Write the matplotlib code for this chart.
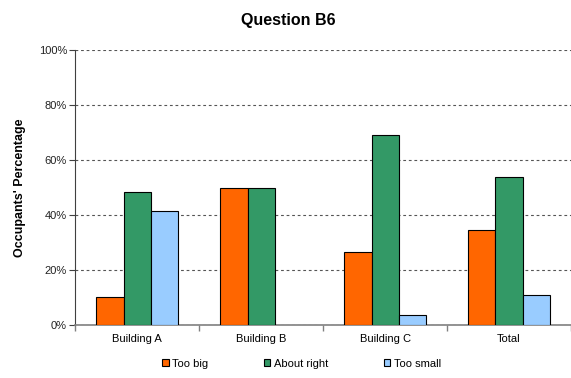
import numpy as np
import matplotlib
matplotlib.use('Agg')
import matplotlib.pyplot as plt
from matplotlib.ticker import FuncFormatter

plt.rcParams['font.family'] = ['Liberation Sans', 'DejaVu Sans']

categories = ['Building A', 'Building B', 'Building C', 'Total']
series_names = ['Too big', 'About right', 'Too small']
too_big = [10.5, 50.0, 26.7, 34.8]
about_right = [48.3, 50.0, 69.1, 53.9]
too_small = [41.4, 0.0, 3.7, 11.1]
colors = ['#FF6600', '#339966', '#99CCFF']

fig = plt.figure(figsize=(5.71, 3.78), dpi=100)
ax = fig.add_axes([0.132, 0.139, 0.868, 0.729])

x = np.arange(len(categories))
w = 0.22
for i, (vals, name, c) in enumerate(zip([too_big, about_right, too_small], series_names, colors)):
    vals = np.array(vals)
    mask = vals > 0
    ax.bar(x[mask] + (i - 1) * w, vals[mask], width=w, color=c, edgecolor='black',
           linewidth=0.8, label=name, zorder=3)

ax.set_xlim(-0.5, len(categories) - 0.5)
ax.set_ylim(0, 100)
ax.set_yticks(range(0, 101, 20))
ax.yaxis.set_major_formatter(FuncFormatter(lambda v, p: f'{int(v)}%'))
ax.grid(axis='y', linestyle=(0, (2.5, 2.5)), color='#555555', linewidth=0.8, zorder=0)

# category ticks at boundaries, labels centered
ax.set_xticks(np.arange(len(categories) + 1) - 0.5)
ax.set_xticklabels([])
ax.set_xticks(x, minor=True)
ax.set_xticklabels(categories, minor=True, fontsize=8)
ax.tick_params(axis='x', which='minor', length=0, pad=6)
ax.tick_params(axis='x', which='major', length=4, color='#808080', width=1)
ax.tick_params(axis='y', labelsize=8, length=4, color='#404040', pad=2, labelcolor='#222222')

for s in ['top', 'right']:
    ax.spines[s].set_visible(False)
ax.spines['left'].set_color('#404040')
ax.spines['bottom'].set_color('#808080')
ax.spines['bottom'].set_linewidth(1.2)

fig.text(0.505, 0.947, 'Question B6', fontsize=11.5, fontweight='bold', ha='center', va='center')
ax.set_ylabel("Occupants' Percentage", fontsize=9, fontweight='bold', labelpad=9)

ax.legend(loc='upper center', bbox_to_anchor=(0.456, -0.085), ncol=3, frameon=False,
          fontsize=8, handlelength=0.6, handleheight=0.6, handletextpad=0.3,
          columnspacing=5.0)

fig.savefig('out.png', dpi=100)
